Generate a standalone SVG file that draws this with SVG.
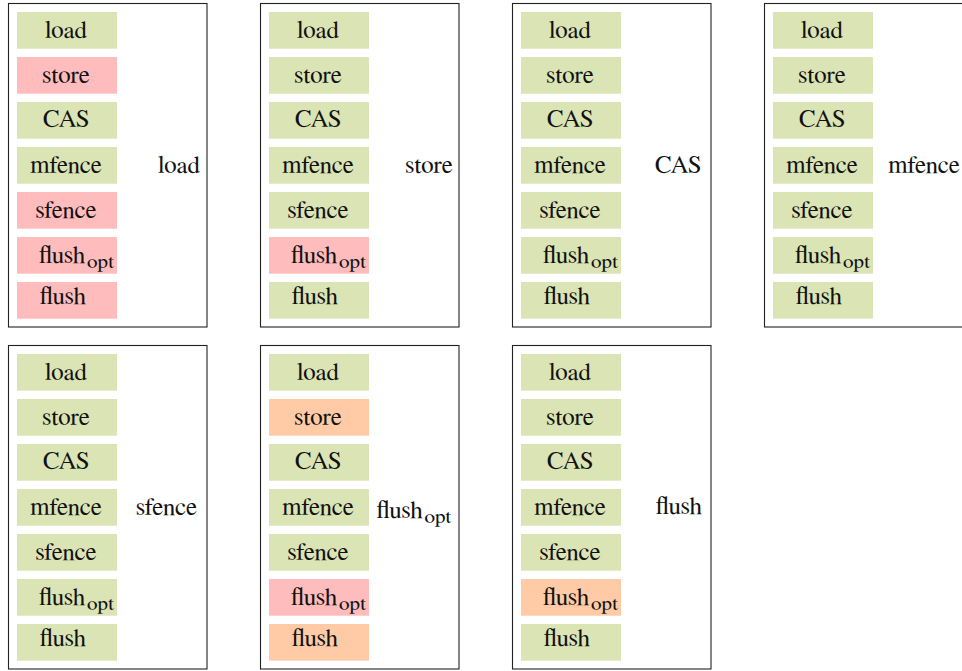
<svg xmlns="http://www.w3.org/2000/svg" width="962" height="671" viewBox="0 0 962 671">
  <style>
    .frame { fill: none; stroke: #222; stroke-width: 1.1; }
    .g { fill: #dbe4b4; }
    .p { fill: #ffbcbc; }
    .o { fill: #ffcba6; }
    text { font-family: FreeSerif, "Liberation Serif", "DejaVu Serif", serif; font-size: 25px; fill: #111; }
    .c { text-anchor: middle; }
    .sub { font-size: 17.5px; }
  </style>
  <defs>
    <!-- one cell of an operation column: 100 x 36.7 -->
    <rect id="cell" width="100" height="36.7"/>
  </defs>

  <!-- ===== panel: load ===== -->
  <g id="panel-load" transform="translate(8.5,3.5)">
    <rect class="frame" width="198.5" height="323.5"/>
    <g id="load-load"><use href="#cell" class="g" x="8.5" y="8.5"/><text class="c" x="57.5" y="34.85">load</text></g>
    <g id="load-store"><use href="#cell" class="p" x="8.5" y="53.5"/><text class="c" x="57.5" y="79.85">store</text></g>
    <g id="load-cas"><use href="#cell" class="g" x="8.5" y="98.5"/><text class="c" x="57.5" y="123.85">CAS</text></g>
    <g id="load-mfence"><use href="#cell" class="g" x="8.5" y="143.5"/><text class="c" x="57.5" y="169.85">mfence</text></g>
    <g id="load-sfence"><use href="#cell" class="p" x="8.5" y="188.5"/><text class="c" x="57.5" y="214.85">sfence</text></g>
    <g id="load-flushopt"><use href="#cell" class="p" x="8.5" y="233.5"/><text x="30.8" y="259.85">flush</text><text class="sub" x="78.5" y="264.85" textLength="27" lengthAdjust="spacingAndGlyphs">opt</text></g>
    <g id="load-flush"><use href="#cell" class="p" x="8.5" y="278.5"/><text x="31.5" y="300.85">flush</text></g>
    <text class="c" x="170.5" y="169.75">load</text>
  </g>

  <!-- ===== panel: store ===== -->
  <g id="panel-store" transform="translate(260.5,3.5)">
    <rect class="frame" width="198.5" height="323.5"/>
    <g id="store-load"><use href="#cell" class="g" x="8.5" y="8.5"/><text class="c" x="57.5" y="34.85">load</text></g>
    <g id="store-store"><use href="#cell" class="g" x="8.5" y="53.5"/><text class="c" x="57.5" y="79.85">store</text></g>
    <g id="store-cas"><use href="#cell" class="g" x="8.5" y="98.5"/><text class="c" x="57.5" y="123.85">CAS</text></g>
    <g id="store-mfence"><use href="#cell" class="g" x="8.5" y="143.5"/><text class="c" x="57.5" y="169.85">mfence</text></g>
    <g id="store-sfence"><use href="#cell" class="g" x="8.5" y="188.5"/><text class="c" x="57.5" y="214.85">sfence</text></g>
    <g id="store-flushopt"><use href="#cell" class="p" x="8.5" y="233.5"/><text x="30.8" y="259.85">flush</text><text class="sub" x="78.5" y="264.85" textLength="27" lengthAdjust="spacingAndGlyphs">opt</text></g>
    <g id="store-flush"><use href="#cell" class="g" x="8.5" y="278.5"/><text x="31.5" y="300.85">flush</text></g>
    <text class="c" x="168.5" y="169.75">store</text>
  </g>

  <!-- ===== panel: CAS ===== -->
  <g id="panel-cas" transform="translate(512.5,3.5)">
    <rect class="frame" width="198.5" height="323.5"/>
    <g id="cas-load"><use href="#cell" class="g" x="8.5" y="8.5"/><text class="c" x="57.5" y="34.85">load</text></g>
    <g id="cas-store"><use href="#cell" class="g" x="8.5" y="53.5"/><text class="c" x="57.5" y="79.85">store</text></g>
    <g id="cas-cas"><use href="#cell" class="g" x="8.5" y="98.5"/><text class="c" x="57.5" y="123.85">CAS</text></g>
    <g id="cas-mfence"><use href="#cell" class="g" x="8.5" y="143.5"/><text class="c" x="57.5" y="169.85">mfence</text></g>
    <g id="cas-sfence"><use href="#cell" class="g" x="8.5" y="188.5"/><text class="c" x="57.5" y="214.85">sfence</text></g>
    <g id="cas-flushopt"><use href="#cell" class="g" x="8.5" y="233.5"/><text x="30.8" y="259.85">flush</text><text class="sub" x="78.5" y="264.85" textLength="27" lengthAdjust="spacingAndGlyphs">opt</text></g>
    <g id="cas-flush"><use href="#cell" class="g" x="8.5" y="278.5"/><text x="31.5" y="300.85">flush</text></g>
    <text class="c" x="165.5" y="169.75">CAS</text>
  </g>

  <!-- ===== panel: mfence ===== -->
  <g id="panel-mfence" transform="translate(764.5,3.5)">
    <rect class="frame" width="198.5" height="323.5"/>
    <g id="mfence-load"><use href="#cell" class="g" x="8.5" y="8.5"/><text class="c" x="57.5" y="34.85">load</text></g>
    <g id="mfence-store"><use href="#cell" class="g" x="8.5" y="53.5"/><text class="c" x="57.5" y="79.85">store</text></g>
    <g id="mfence-cas"><use href="#cell" class="g" x="8.5" y="98.5"/><text class="c" x="57.5" y="123.85">CAS</text></g>
    <g id="mfence-mfence"><use href="#cell" class="g" x="8.5" y="143.5"/><text class="c" x="57.5" y="169.85">mfence</text></g>
    <g id="mfence-sfence"><use href="#cell" class="g" x="8.5" y="188.5"/><text class="c" x="57.5" y="214.85">sfence</text></g>
    <g id="mfence-flushopt"><use href="#cell" class="g" x="8.5" y="233.5"/><text x="30.8" y="259.85">flush</text><text class="sub" x="78.5" y="264.85" textLength="27" lengthAdjust="spacingAndGlyphs">opt</text></g>
    <g id="mfence-flush"><use href="#cell" class="g" x="8.5" y="278.5"/><text x="31.5" y="300.85">flush</text></g>
    <text class="c" x="159.5" y="169.75">mfence</text>
  </g>

  <!-- ===== panel: sfence ===== -->
  <g id="panel-sfence" transform="translate(8.5,345.5)">
    <rect class="frame" width="198.5" height="323.5"/>
    <g id="sfence-load"><use href="#cell" class="g" x="8.5" y="8.5"/><text class="c" x="57.5" y="34.85">load</text></g>
    <g id="sfence-store"><use href="#cell" class="g" x="8.5" y="53.5"/><text class="c" x="57.5" y="79.85">store</text></g>
    <g id="sfence-cas"><use href="#cell" class="g" x="8.5" y="98.5"/><text class="c" x="57.5" y="123.85">CAS</text></g>
    <g id="sfence-mfence"><use href="#cell" class="g" x="8.5" y="143.5"/><text class="c" x="57.5" y="169.85">mfence</text></g>
    <g id="sfence-sfence"><use href="#cell" class="g" x="8.5" y="188.5"/><text class="c" x="57.5" y="214.85">sfence</text></g>
    <g id="sfence-flushopt"><use href="#cell" class="g" x="8.5" y="233.5"/><text x="30.8" y="259.85">flush</text><text class="sub" x="78.5" y="264.85" textLength="27" lengthAdjust="spacingAndGlyphs">opt</text></g>
    <g id="sfence-flush"><use href="#cell" class="g" x="8.5" y="278.5"/><text x="31.5" y="300.85">flush</text></g>
    <text class="c" x="158" y="169.5">sfence</text>
  </g>

  <!-- ===== panel: flush_opt ===== -->
  <g id="panel-flushopt" transform="translate(260.5,345.5)">
    <rect class="frame" width="198.5" height="323.5"/>
    <g id="flushopt-load"><use href="#cell" class="g" x="8.5" y="8.5"/><text class="c" x="57.5" y="34.85">load</text></g>
    <g id="flushopt-store"><use href="#cell" class="o" x="8.5" y="53.5"/><text class="c" x="57.5" y="79.85">store</text></g>
    <g id="flushopt-cas"><use href="#cell" class="g" x="8.5" y="98.5"/><text class="c" x="57.5" y="123.85">CAS</text></g>
    <g id="flushopt-mfence"><use href="#cell" class="g" x="8.5" y="143.5"/><text class="c" x="57.5" y="169.85">mfence</text></g>
    <g id="flushopt-sfence"><use href="#cell" class="g" x="8.5" y="188.5"/><text class="c" x="57.5" y="214.85">sfence</text></g>
    <g id="flushopt-flushopt"><use href="#cell" class="p" x="8.5" y="233.5"/><text x="30.8" y="259.85">flush</text><text class="sub" x="78.5" y="264.85" textLength="27" lengthAdjust="spacingAndGlyphs">opt</text></g>
    <g id="flushopt-flush"><use href="#cell" class="o" x="8.5" y="278.5"/><text x="31.5" y="300.85">flush</text></g>
    <text x="116.2" y="172.5">flush</text><text class="sub" x="163.9" y="177.5" textLength="27" lengthAdjust="spacingAndGlyphs">opt</text>
  </g>

  <!-- ===== panel: flush ===== -->
  <g id="panel-flush" transform="translate(512.5,345.5)">
    <rect class="frame" width="198.5" height="323.5"/>
    <g id="flush-load"><use href="#cell" class="g" x="8.5" y="8.5"/><text class="c" x="57.5" y="34.85">load</text></g>
    <g id="flush-store"><use href="#cell" class="g" x="8.5" y="53.5"/><text class="c" x="57.5" y="79.85">store</text></g>
    <g id="flush-cas"><use href="#cell" class="g" x="8.5" y="98.5"/><text class="c" x="57.5" y="123.85">CAS</text></g>
    <g id="flush-mfence"><use href="#cell" class="g" x="8.5" y="143.5"/><text class="c" x="57.5" y="169.85">mfence</text></g>
    <g id="flush-sfence"><use href="#cell" class="g" x="8.5" y="188.5"/><text class="c" x="57.5" y="214.85">sfence</text></g>
    <g id="flush-flushopt"><use href="#cell" class="o" x="8.5" y="233.5"/><text x="30.8" y="259.85">flush</text><text class="sub" x="78.5" y="264.85" textLength="27" lengthAdjust="spacingAndGlyphs">opt</text></g>
    <g id="flush-flush"><use href="#cell" class="g" x="8.5" y="278.5"/><text x="31.5" y="300.85">flush</text></g>
    <text class="c" x="166.5" y="168.5">flush</text>
  </g>
</svg>
